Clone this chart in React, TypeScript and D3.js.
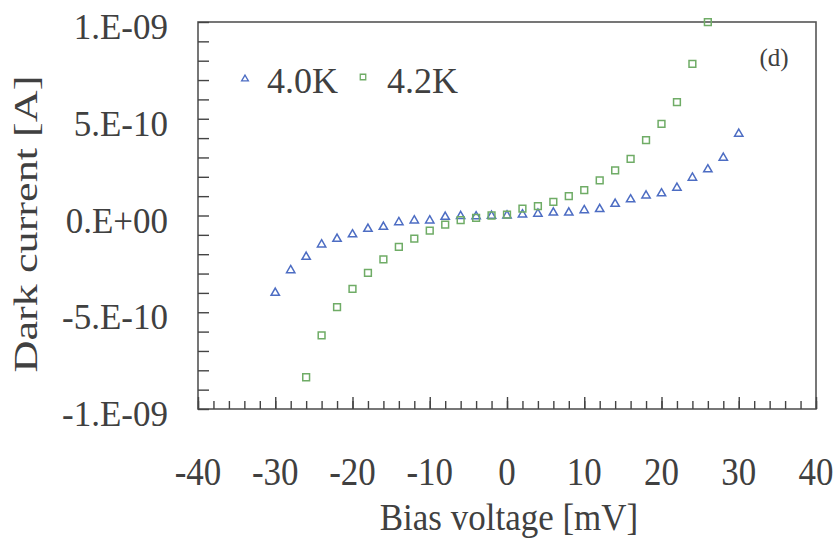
import { useRef, useEffect } from 'react'
import * as d3 from 'd3'

// 4.0K series (triangles), current in A
const bias40 = [-30, -28, -26, -24, -22, -20, -18, -16, -14, -12, -10, -8, -6, -4, -2, 0, 2, 4, 6, 8, 10, 12, 14, 16, 18, 20, 22, 24, 26, 28, 30]
const current40 = [
  -4.0e-10, -2.83e-10, -2.14e-10, -1.5e-10, -1.21e-10, -0.98e-10, -0.69e-10, -0.59e-10, -0.35e-10, -0.26e-10, -0.26e-10,
  -0.07e-10, -0.03e-10, -0.05e-10, -0.02e-10, 0.0, 0.05e-10, 0.09e-10, 0.15e-10, 0.15e-10, 0.27e-10, 0.33e-10, 0.6e-10,
  0.83e-10, 1.03e-10, 1.14e-10, 1.43e-10, 1.95e-10, 2.38e-10, 2.98e-10, 4.22e-10,
]

// 4.2K series (squares)
const bias42 = [-26, -24, -22, -20, -18, -16, -14, -12, -10, -8, -6, -4, -2, 0, 2, 4, 6, 8, 10, 12, 14, 16, 18, 20, 22, 24, 26]
const current42 = [
  -8.36e-10, -6.19e-10, -4.74e-10, -3.79e-10, -2.96e-10, -2.27e-10, -1.62e-10, -1.2e-10, -0.78e-10, -0.47e-10, -0.24e-10,
  -0.12e-10, 0.0, 0.05e-10, 0.36e-10, 0.48e-10, 0.7e-10, 1.0e-10, 1.31e-10, 1.81e-10, 2.33e-10, 2.93e-10, 3.89e-10,
  4.74e-10, 5.86e-10, 7.84e-10, 9.99e-10,
]

const xTicks = [-40, -30, -20, -10, 0, 10, 20, 30, 40]
const xMinorTicks = d3.range(-40, 41, 2)
const yTicks = [-1e-9, -5e-10, 0, 5e-10, 1e-9]
const yTickLabels = ['-1.E-09', '-5.E-10', '0.E+00', '5.E-10', '1.E-09']
const yMinorTicks = d3.range(-10, 11, 1).map((k) => k * 1e-10)

const seriesNames = ['4.0K', '4.2K']

const BLUE = '#4d6dc3'
const GREEN = '#6fac66'
const INK = '#404040'
const FONT = '"Liberation Serif", "Times New Roman", serif'

const App = () => {
  const svgRef = useRef(null)

  function renderChart() {
    const svg = d3.select(svgRef.current)
    svg.selectAll('*').remove()

    const x = d3.scaleLinear().domain([-40, 40]).range([198, 816])
    const y = d3.scaleLinear().domain([-1e-9, 1e-9]).range([409, 22])

    // frame
    svg
      .append('rect')
      .attr('x', x(-40))
      .attr('y', y(1e-9))
      .attr('width', x(40) - x(-40))
      .attr('height', y(-1e-9) - y(1e-9))
      .attr('fill', 'none')
      .attr('stroke', '#555')
      .attr('stroke-width', 1.6)

    // ticks, drawn inward
    const xMinor = d3.axisBottom(x).tickValues(xMinorTicks).tickSize(-8).tickFormat(() => '')
    const xMajor = d3.axisBottom(x).tickValues(xTicks).tickSize(-12).tickFormat(() => '')
    const yMinor = d3.axisLeft(y).tickValues(yMinorTicks).tickSize(-11).tickFormat(() => '')

    svg.append('g').attr('transform', `translate(0, ${y(-1e-9)})`).call(xMinor)
    svg.append('g').attr('transform', `translate(0, ${y(-1e-9)})`).call(xMajor)
    svg.append('g').attr('transform', `translate(${x(-40)}, 0)`).call(yMinor)

    svg.selectAll('.domain').remove()
    svg.selectAll('.tick line').attr('stroke', '#444').attr('stroke-width', 1.4)

    // tick labels
    svg
      .append('g')
      .selectAll('text')
      .data(yTicks)
      .join('text')
      .attr('x', 168)
      .attr('y', (d) => y(d) + 17)
      .attr('text-anchor', 'end')
      .attr('font-size', 35)
      .attr('font-family', FONT)
      .attr('fill', INK)
      .text((d, i) => yTickLabels[i])

    svg
      .append('g')
      .selectAll('text')
      .data(xTicks)
      .join('text')
      .attr('transform', (d) => `translate(${x(d)}, 485) scale(1, 1.12)`)
      .attr('text-anchor', 'middle')
      .attr('font-size', 35)
      .attr('font-family', FONT)
      .attr('fill', INK)
      .text((d) => String(d))

    // axis titles
    svg
      .append('text')
      .attr('transform', 'translate(509, 530) scale(1, 1.1)')
      .attr('text-anchor', 'middle')
      .attr('font-size', 35)
      .attr('font-family', FONT)
      .attr('fill', INK)
      .text('Bias voltage [mV]')

    svg
      .append('text')
      .attr('transform', 'translate(37, 224) rotate(-90) scale(1.3, 1)')
      .attr('text-anchor', 'middle')
      .attr('font-size', 34)
      .attr('font-family', FONT)
      .attr('fill', INK)
      .text('Dark current [A]')

    // panel tag
    svg
      .append('text')
      .attr('x', 774)
      .attr('y', 66)
      .attr('text-anchor', 'middle')
      .attr('font-size', 25)
      .attr('font-family', FONT)
      .attr('fill', INK)
      .text('(d)')

    const tri = d3.symbol(d3.symbolTriangle, 30)
    const sq = d3.symbol(d3.symbolSquare, 46)

    svg
      .append('g')
      .selectAll('path')
      .data(bias40.map((b, i) => [b, current40[i]]))
      .join('path')
      .attr('d', tri)
      .attr('transform', (d) => `translate(${x(d[0])}, ${y(d[1])})`)
      .attr('fill', 'none')
      .attr('stroke', BLUE)
      .attr('stroke-width', 1.5)

    svg
      .append('g')
      .selectAll('path')
      .data(bias42.map((b, i) => [b, current42[i]]))
      .join('path')
      .attr('d', sq)
      .attr('transform', (d) => `translate(${x(d[0])}, ${y(d[1])})`)
      .attr('fill', 'none')
      .attr('stroke', GREEN)
      .attr('stroke-width', 1.5)

    // legend
    const legend = svg.append('g')
    legend
      .append('path')
      .attr('d', d3.symbol(d3.symbolTriangle, 20))
      .attr('transform', 'translate(245, 79)')
      .attr('fill', 'none')
      .attr('stroke', BLUE)
      .attr('stroke-width', 1.3)
    legend
      .append('path')
      .attr('d', d3.symbol(d3.symbolSquare, 30))
      .attr('transform', 'translate(363, 77)')
      .attr('fill', 'none')
      .attr('stroke', GREEN)
      .attr('stroke-width', 1.3)
    legend
      .selectAll('text')
      .data(seriesNames)
      .join('text')
      .attr('x', (d, i) => (i === 0 ? 267 : 387))
      .attr('y', 93)
      .attr('font-size', 36)
      .attr('font-family', FONT)
      .attr('fill', INK)
      .text((d) => d)
  }

  useEffect(() => {
    renderChart()
  }, [])

  return (
    <div>
      <svg
        width="838"
        height="544"
        ref={svgRef}
        style={{ position: 'absolute', left: 0, top: 0, background: '#fff' }}
      ></svg>
    </div>
  )
}

export default App
